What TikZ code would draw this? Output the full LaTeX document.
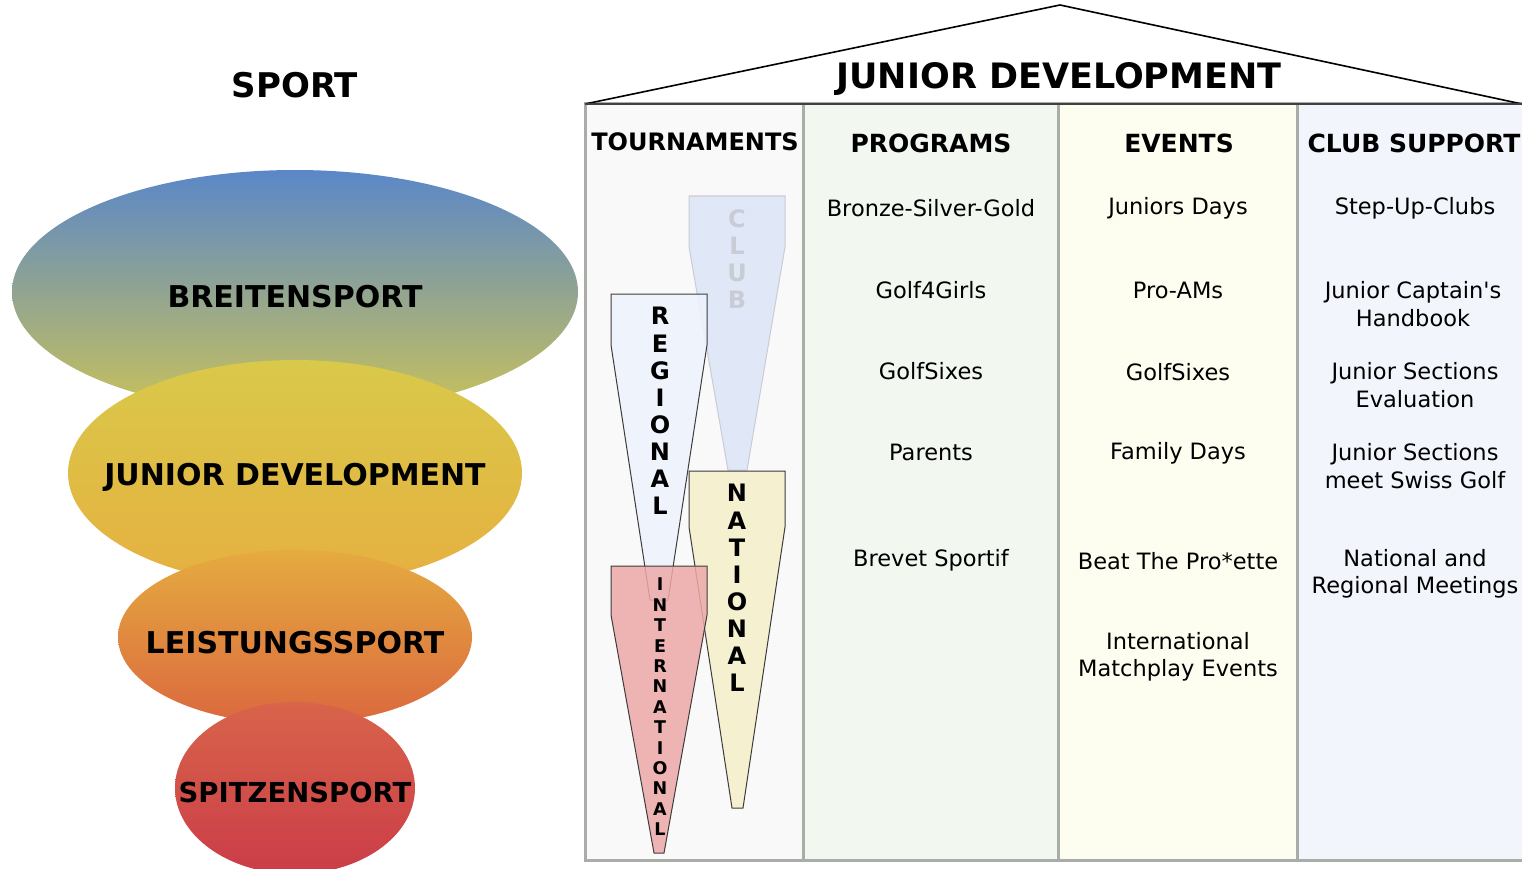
\documentclass[tikz,border=0pt]{standalone}
\usepackage{fontspec}
\setmainfont{DejaVu Sans}
\definecolor{colT}{HTML}{F9F9F9}
\definecolor{colP}{HTML}{F2F7F0}
\definecolor{colE}{HTML}{FEFEF0}
\definecolor{colC}{HTML}{F2F5FC}
\definecolor{colborder}{HTML}{A8ADA8}
\definecolor{eBtop}{HTML}{5A87C8}
\definecolor{eBbot}{HTML}{C9C25A}
\definecolor{eJtop}{HTML}{D9C94A}
\definecolor{eJbot}{HTML}{E6B040}
\definecolor{eLtop}{HTML}{E5AB40}
\definecolor{eLbot}{HTML}{DB683E}
\definecolor{eStop}{HTML}{D8644A}
\definecolor{eSbot}{HTML}{CB3C48}
\definecolor{fClub}{HTML}{DCE5F7}
\definecolor{fReg}{HTML}{EEF3FC}
\definecolor{fNat}{HTML}{F5EFC8}
\definecolor{fInt}{HTML}{EDA9A9}
\definecolor{clubtxt}{HTML}{C8CCD5}
\definecolor{funline}{HTML}{3C3C3C}
\begin{document}
\begin{tikzpicture}[x=1pt,y=-1pt,
  column/.style={draw=colborder, line width=3pt},
  level/.style={inner sep=0pt, font=\fontsize{30}{36}\selectfont\bfseries},
  heading/.style={font=\fontsize{25}{30}\selectfont\bfseries},
  item/.style={font=\fontsize{22.5}{27.5}\selectfont, align=center},
  funnel/.style={draw=funline, line width=1pt, fill opacity=0.85},
  vletters/.style={align=center, inner sep=0pt, font=\fontsize{24}{27.1}\selectfont\bfseries},
  vsmall/.style={align=center, inner sep=0pt, font=\fontsize{17.5}{20.4}\selectfont\bfseries}]
\useasboundingbox (0,0) rectangle (1522,869);

% ---------- left: sport pyramid ----------
\node[font=\fontsize{34}{40}\selectfont\bfseries] (sport) at (295,85) {SPORT};
\shade[top color=eBtop, bottom color=eBbot] (295,292) ellipse [x radius=283pt, y radius=122pt];
\shade[top color=eJtop, bottom color=eJbot] (295,473) ellipse [x radius=227pt, y radius=113pt];
\shade[top color=eLtop, bottom color=eLbot] (295,637) ellipse [x radius=177pt, y radius=87pt];
\shade[top color=eStop, bottom color=eSbot] (295,788) ellipse [x radius=120pt, y radius=86pt];
\node[level] (breit) at (295,297) {BREITENSPORT};
\node[level] (junior) at (295,477) {JUNIOR DEVELOPMENT};
\node[level] (leist) at (295,643) {LEISTUNGSSPORT};
\node[level, font=\fontsize{27.5}{33}\selectfont\bfseries] (spitz) at (295,792) {SPITZENSPORT};

% ---------- right: house ----------
\path[column, fill=colT] (585,104) rectangle (803,860);
\path[column, fill=colP] (803,104) rectangle (1058,860);
\path[column, fill=colE] (1058,104) rectangle (1297,860);
\path[column, fill=colC] (1297,104) rectangle (1530,860);
\draw[line width=1.6pt, line join=miter] (585,104) -- (1060,5) -- (1522,104);
\draw[line width=1.6pt, draw=black!75] (585,104) -- (1522,104);
\node[font=\fontsize{35}{42}\selectfont\bfseries] (title) at (1059,79) {JUNIOR DEVELOPMENT};

\node[heading, font=\fontsize{24}{29}\selectfont\bfseries] (hT) at (695,142) {TOURNAMENTS};
\node[heading] (hP) at (931,143) {PROGRAMS};
\node[heading] (hE) at (1179,143) {EVENTS};
\node[heading] (hC) at (1414,143) {CLUB SUPPORT};

% tournaments funnels
\path[funnel, draw=clubtxt, fill=fClub] (689,196) -- (785,196) -- (785,247) -- (747,470) -- (728,470) -- (689,247) -- cycle;
\path[funnel, fill=fReg] (611,294) -- (707,294) -- (707,345) -- (668,600) -- (650,600) -- (611,345) -- cycle;
\path[funnel, fill=fNat] (689,471) -- (785,471) -- (785,527) -- (743,808) -- (732,808) -- (689,527) -- cycle;
\path[funnel, fill=fInt] (611,566) -- (707,566) -- (707,615) -- (664,853) -- (654,853) -- (611,615) -- cycle;
\node[vletters, text=clubtxt] (club) at (737,259) {C\\L\\U\\B};
\node[vletters] (reg) at (660,411) {R\\E\\G\\I\\O\\N\\A\\L};
\node[vletters] (nat) at (737,588) {N\\A\\T\\I\\O\\N\\A\\L};
\node[vsmall] (int) at (660,707) {I\\N\\T\\E\\R\\N\\A\\T\\I\\O\\N\\A\\L};

% programs
\node[item] (p1) at (931,208) {Bronze-Silver-Gold};
\node[item] (p2) at (931,290) {Golf4Girls};
\node[item] (p3) at (931,371) {GolfSixes};
\node[item] (p4) at (931,452) {Parents};
\node[item] (p5) at (931,560) {Brevet Sportif};

% events
\node[item] (e1) at (1178,208) {Juniors Days};
\node[item] (e2) at (1178,290) {Pro-AMs};
\node[item] (e3) at (1178,372) {GolfSixes};
\node[item] (e4) at (1178,453) {Family Days};
\node[item] (e5) at (1178,561) {Beat The Pro*ette};
\node[item] (e6) at (1178,657) {International\\Matchplay Events};

% club support
\node[item] (c1) at (1415,208) {Step-Up-Clubs};
\node[item] (c2) at (1413,304) {Junior Captain\textquotesingle s\\Handbook};
\node[item] (c3) at (1415,385) {Junior Sections\\Evaluation};
\node[item] (c4) at (1415,466) {Junior Sections\\meet Swiss Golf};
\node[item] (c5) at (1415,574) {National and\\Regional Meetings};
\end{tikzpicture}
\end{document}
